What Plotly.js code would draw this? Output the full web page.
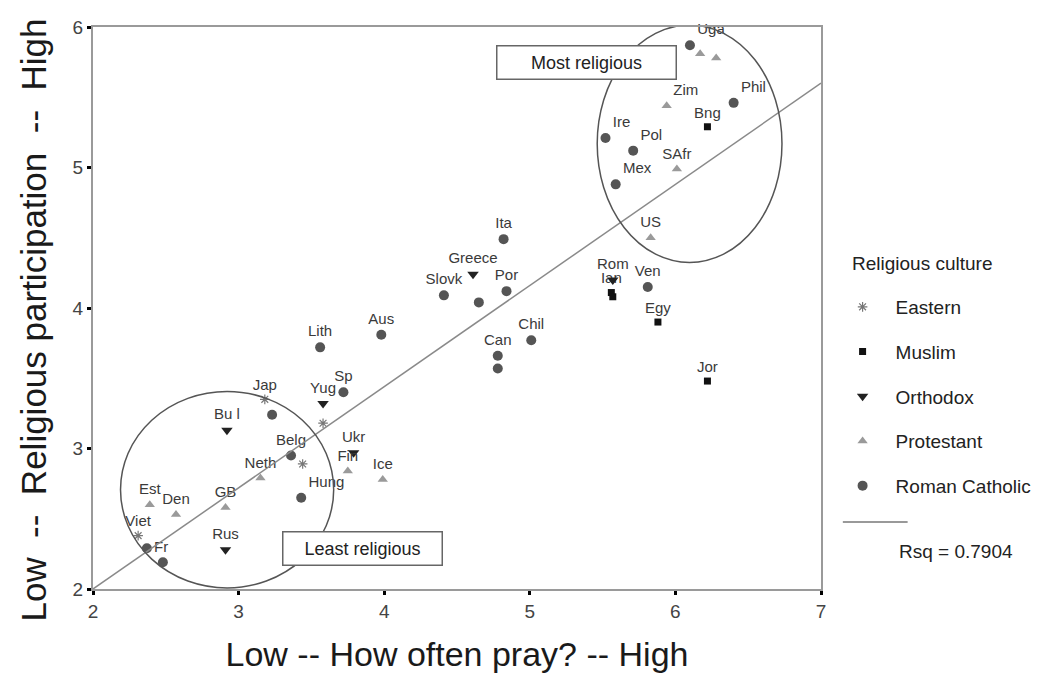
<!DOCTYPE html>
<html><head><meta charset="utf-8">
<script src="https://cdn.plot.ly/plotly-3.0.1.min.js"></script>
<style>html,body{margin:0;padding:0;background:#fff}#chart{width:1051px;height:673px}</style>
</head><body><div id="chart"></div>
<script>
// ---- data ----
const easternLabels = ['Jap', 'Viet', '', ''];
const easternX = [3.18, 2.31, 3.58, 3.44];
const easternY = [3.35, 2.38, 3.18, 2.89];

const muslimLabels = ['Bng', 'Ian', '', 'Egy', 'Jor'];
const muslimX = [6.22, 5.56, 5.57, 5.88, 6.22];
const muslimY = [5.29, 4.11, 4.08, 3.90, 3.48];

const orthodoxLabels = ['Greece', 'Rom', 'Yug', 'Bu l', 'Ukr', 'Rus'];
const orthodoxX = [4.61, 5.57, 3.58, 2.92, 3.79, 2.91];
const orthodoxY = [4.24, 4.20, 3.32, 3.13, 2.97, 2.28];

const protestantLabels = ['', '', 'Zim', 'SAfr', 'US', 'Fin', 'Ice', 'Neth', 'GB', 'Est', 'Den'];
const protestantX = [6.17, 6.28, 5.94, 6.01, 5.83, 3.75, 3.99, 3.15, 2.91, 2.39, 2.57];
const protestantY = [5.81, 5.78, 5.44, 4.99, 4.50, 2.84, 2.78, 2.79, 2.58, 2.60, 2.53];

const catholicLabels = ['Uga', 'Phil', 'Ire', 'Pol', 'Mex', 'Ven', 'Ita', 'Slovk', '', 'Por', 'Chil', 'Can', '', 'Lith', 'Aus', 'Sp', '', 'Belg', 'Hung', 'Fr', ''];
const catholicX = [6.10, 6.40, 5.52, 5.71, 5.59, 5.81, 4.82, 4.41, 4.65, 4.84, 5.01, 4.78, 4.78, 3.56, 3.98, 3.72, 3.23, 3.36, 3.43, 2.37, 2.48];
const catholicY = [5.87, 5.46, 5.21, 5.12, 4.88, 4.15, 4.49, 4.09, 4.04, 4.12, 3.77, 3.66, 3.57, 3.72, 3.81, 3.40, 3.24, 2.95, 2.65, 2.29, 2.19];

const fitIntercept = 0.56;
const fitSlope = 0.72;
const rsqText = 'Rsq = 0.7904';
const legendTitle = 'Religious culture';
const xTitle = 'Low -- How often pray? -- High';
const yTitle = 'Low \u00a0--\u00a0 Religious participation \u00a0--\u00a0 High';
const xTicks = [2, 3, 4, 5, 6, 7];
const yTicks = [2, 3, 4, 5, 6];

// ---- presentation ----
const FONT = '"Liberation Sans", Arial, Helvetica, sans-serif';
const rightLabels = {Uga: 'top right', Phil: 'top right', Zim: 'top right', Ire: 'top right', Pol: 'top right', Mex: 'top right', Hung: 'top right', Fr: 'middle right'};
const posFor = labels => labels.map(l => rightLabels[l] || 'top center');

function group(name, labels, xs, ys, marker) {
  return {
    type: 'scatter', mode: 'markers+text', name: name, legendgroup: name,
    x: xs, y: ys, text: labels, textposition: posFor(labels),
    textfont: {family: FONT, size: 15, color: '#3a3a3a'},
    marker: marker, cliponaxis: false, hoverinfo: 'x+y+text'
  };
}

const traces = [
  group('Eastern', easternLabels, easternX, easternY,
        {symbol: 'asterisk-open', size: 8, color: '#777', line: {color: '#777', width: 1.2}}),
  group('Muslim', muslimLabels, muslimX, muslimY,
        {symbol: 'square', size: 7, color: '#111'}),
  group('Orthodox', orthodoxLabels, orthodoxX, orthodoxY,
        {symbol: 'triangle-down', size: 10, color: '#222'}),
  group('Protestant', protestantLabels, protestantX, protestantY,
        {symbol: 'triangle-up', size: 9, color: '#9a9a9a'}),
  group('Roman Catholic', catholicLabels, catholicX, catholicY,
        {symbol: 'circle', size: 10, color: '#555'})
];

const fitX = [xTicks[0], xTicks[xTicks.length - 1]];
traces.push({
  type: 'scatter', mode: 'lines', x: fitX, y: fitX.map(v => fitIntercept + fitSlope * v),
  line: {color: '#8a8a8a', width: 1.5}, showlegend: false, hoverinfo: 'skip'
});

const axisCommon = {
  showgrid: false, zeroline: false, showline: true, mirror: true,
  linecolor: '#9a9a9a', linewidth: 2,
  ticks: 'outside', ticklen: 4, tickwidth: 3, tickcolor: '#000',
  tickfont: {family: FONT, size: 19, color: '#444'}
};

const layout = {
  width: 1051, height: 673,
  margin: {l: 93, r: 230, t: 27, b: 84},
  paper_bgcolor: '#fff', plot_bgcolor: '#fff',
  font: {family: FONT},
  xaxis: Object.assign({}, axisCommon, {
    range: [2, 7], tickvals: xTicks,
    title: {text: xTitle, font: {family: FONT, size: 34, color: '#1a1a1a'}, standoff: 28}
  }),
  yaxis: Object.assign({}, axisCommon, {
    range: [2, 6], tickvals: yTicks
  }),
  showlegend: true,
  legend: {
    x: 1.0118, xanchor: 'left', y: 0.5356, yanchor: 'top',
    font: {family: FONT, size: 19, color: '#222'},
    itemwidth: 56,
    traceorder: 'grouped', tracegroupgap: 17, bgcolor: 'rgba(0,0,0,0)', borderwidth: 0
  },
  shapes: [
    {type: 'circle', xref: 'x', yref: 'y', x0: 5.463, x1: 6.732, y0: 4.324, y1: 6.014, line: {color: '#555', width: 1.5}, layer: 'above'},
    {type: 'circle', xref: 'x', yref: 'y', x0: 2.189, x1: 3.653, y0: 2.008, y1: 3.406, line: {color: '#555', width: 1.5}, layer: 'above'},
    {type: 'line', xref: 'paper', yref: 'paper', x0: 1.030, x1: 1.119, y0: 0.119, y1: 0.119, line: {color: '#777', width: 1.5}}
  ],
  annotations: [
    {xref: 'paper', yref: 'paper', x: -0.0817, y: 0.4786, xanchor: 'center', yanchor: 'middle', textangle: -90,
     text: yTitle, showarrow: false, font: {family: FONT, size: 35, color: '#1a1a1a'}},
    {xref: 'x', yref: 'y', x: 5.387, y: 5.75, text: 'Most religious', showarrow: false,
     font: {family: FONT, size: 18, color: '#222'}, bgcolor: '#fff', bordercolor: '#666', borderwidth: 1.5,
     width: 176, height: 30, borderpad: 1},
    {xref: 'x', yref: 'y', x: 3.85, y: 2.287, text: 'Least religious', showarrow: false,
     font: {family: FONT, size: 18, color: '#222'}, bgcolor: '#fff', bordercolor: '#666', borderwidth: 1.5,
     width: 156, height: 30, borderpad: 1},
    {xref: 'paper', yref: 'paper', x: 1.0398, y: 0.58, xanchor: 'left', yanchor: 'middle', text: legendTitle,
     showarrow: false, font: {family: FONT, size: 19, color: '#222'}},
    {xref: 'paper', yref: 'paper', x: 1.104, y: 0.0676, xanchor: 'left', yanchor: 'middle', text: rsqText,
     showarrow: false, font: {family: FONT, size: 19, color: '#222'}}
  ]
};

Plotly.newPlot('chart', traces, layout, {displayModeBar: false, staticPlot: true});
</script>
</body></html>
